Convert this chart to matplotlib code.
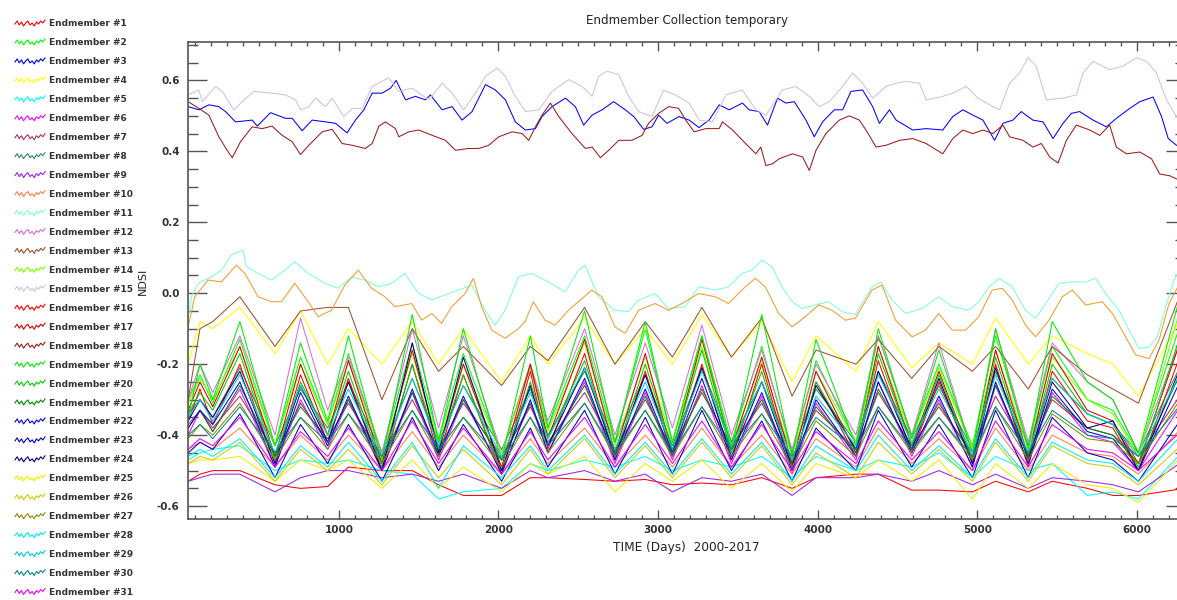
import numpy as np
import matplotlib.pyplot as plt
from matplotlib.lines import Line2D
from matplotlib.ticker import MultipleLocator

# NDSI time profiles of the endmembers
# shared sample days (turning points of the seasonal band)
band_days = [56, 130, 210, 380, 600, 760, 930, 1060, 1270, 1460, 1625, 1780, 2020, 2200,
             2310, 2540, 2730, 2920, 3090, 3275, 3460, 3650, 3840, 3990, 4240, 4380,
             4590, 4760, 4970, 5115, 5320, 5470, 5690, 5850, 6010, 6300]

em1 = [-0.53, -0.51, -0.50, -0.50, -0.54, -0.55, -0.545, -0.49, -0.50, -0.50, -0.54, -0.57,
       -0.57, -0.52, -0.52, -0.525, -0.53, -0.525, -0.54, -0.535, -0.54, -0.52, -0.55, -0.52,
       -0.51, -0.51, -0.555, -0.555, -0.56, -0.53, -0.56, -0.53, -0.55, -0.57, -0.57, -0.55]
em2 = [-0.30, -0.23, -0.31, -0.13, -0.43, -0.18, -0.37, -0.17, -0.45, -0.14, -0.41, -0.17,
       -0.45, -0.20, -0.38, -0.12, -0.42, -0.10, -0.42, -0.12, -0.42, -0.15, -0.45, -0.19,
       -0.42, -0.12, -0.40, -0.20, -0.43, -0.12, -0.43, -0.15, -0.30, -0.33, -0.45, -0.05]
em4 = [-0.20, -0.08, -0.10, -0.04, -0.17, -0.05, -0.20, -0.10, -0.20, -0.08, -0.20, -0.10,
       -0.25, -0.12, -0.20, -0.07, -0.20, -0.10, -0.20, -0.06, -0.18, -0.08, -0.25, -0.12,
       -0.22, -0.08, -0.21, -0.14, -0.20, -0.07, -0.20, -0.12, -0.17, -0.20, -0.29, -0.05]
em5 = [-0.47, -0.45, -0.44, -0.43, -0.50, -0.47, -0.48, -0.47, -0.50, -0.51, -0.58, -0.56,
       -0.55, -0.48, -0.50, -0.47, -0.49, -0.46, -0.50, -0.47, -0.49, -0.46, -0.52, -0.46,
       -0.50, -0.47, -0.49, -0.45, -0.52, -0.46, -0.50, -0.48, -0.57, -0.56, -0.58, -0.44]
em6 = [-0.40, -0.33, -0.39, -0.27, -0.49, -0.30, -0.44, -0.30, -0.50, -0.28, -0.47, -0.30,
       -0.50, -0.31, -0.45, -0.25, -0.48, -0.28, -0.47, -0.26, -0.48, -0.29, -0.51, -0.31,
       -0.47, -0.25, -0.46, -0.30, -0.49, -0.26, -0.48, -0.28, -0.40, -0.42, -0.50, -0.30]
em7 = [-0.37, -0.33, -0.38, -0.29, -0.45, -0.32, -0.41, -0.31, -0.46, -0.30, -0.44, -0.31,
       -0.46, -0.32, -0.42, -0.28, -0.44, -0.30, -0.44, -0.28, -0.43, -0.31, -0.47, -0.33,
       -0.44, -0.28, -0.43, -0.32, -0.45, -0.29, -0.45, -0.30, -0.38, -0.40, -0.46, -0.27]
em8 = [-0.34, -0.30, -0.35, -0.21, -0.43, -0.27, -0.38, -0.25, -0.45, -0.24, -0.42, -0.26,
       -0.44, -0.27, -0.40, -0.22, -0.42, -0.23, -0.43, -0.21, -0.42, -0.25, -0.45, -0.27,
       -0.42, -0.22, -0.41, -0.26, -0.44, -0.22, -0.43, -0.24, -0.34, -0.37, -0.45, -0.18]
em9 = [-0.53, -0.52, -0.51, -0.51, -0.56, -0.52, -0.50, -0.50, -0.52, -0.51, -0.53, -0.51,
       -0.55, -0.50, -0.52, -0.50, -0.53, -0.51, -0.56, -0.52, -0.53, -0.51, -0.57, -0.52,
       -0.52, -0.51, -0.53, -0.50, -0.54, -0.51, -0.55, -0.52, -0.53, -0.54, -0.56, -0.47]
em10 = [-0.44, -0.42, -0.44, -0.38, -0.49, -0.40, -0.47, -0.40, -0.50, -0.39, -0.49, -0.40,
        -0.51, -0.41, -0.48, -0.38, -0.49, -0.40, -0.49, -0.38, -0.49, -0.40, -0.51, -0.41,
        -0.49, -0.38, -0.48, -0.41, -0.50, -0.38, -0.50, -0.40, -0.45, -0.46, -0.51, -0.37]
em12 = [-0.30, -0.20, -0.28, -0.12, -0.40, -0.07, -0.33, -0.18, -0.45, -0.10, -0.38, -0.12,
        -0.45, -0.20, -0.36, -0.10, -0.40, -0.14, -0.38, -0.09, -0.40, -0.16, -0.44, -0.20,
        -0.40, -0.12, -0.40, -0.14, -0.45, -0.10, -0.42, -0.14, -0.25, -0.30, -0.45, -0.10]
em13 = [-0.30, -0.10, -0.08, -0.01, -0.15, -0.05, -0.04, -0.04, -0.30, -0.10, -0.22, -0.15,
        -0.26, -0.15, -0.19, -0.04, -0.20, -0.08, -0.18, -0.04, -0.18, -0.07, -0.29, -0.16,
        -0.20, -0.13, -0.24, -0.15, -0.22, -0.15, -0.27, -0.15, -0.23, -0.27, -0.31, 0.03]
em14 = [-0.31, -0.24, -0.30, -0.15, -0.43, -0.20, -0.37, -0.19, -0.46, -0.17, -0.42, -0.20,
        -0.45, -0.21, -0.39, -0.14, -0.43, -0.18, -0.42, -0.15, -0.43, -0.19, -0.46, -0.22,
        -0.42, -0.15, -0.41, -0.21, -0.44, -0.16, -0.44, -0.18, -0.30, -0.34, -0.46, 0.00]
em16 = [-0.36, -0.27, -0.37, -0.20, -0.48, -0.23, -0.42, -0.24, -0.50, -0.20, -0.46, -0.23,
        -0.51, -0.22, -0.44, -0.17, -0.47, -0.22, -0.46, -0.20, -0.47, -0.20, -0.50, -0.25,
        -0.46, -0.19, -0.45, -0.25, -0.48, -0.20, -0.49, -0.22, -0.36, -0.38, -0.50, -0.14]
em17 = [-0.33, -0.25, -0.32, -0.15, -0.46, -0.20, -0.40, -0.19, -0.48, -0.16, -0.44, -0.20,
        -0.49, -0.20, -0.41, -0.13, -0.45, -0.17, -0.45, -0.13, -0.44, -0.18, -0.48, -0.22,
        -0.45, -0.15, -0.43, -0.22, -0.47, -0.16, -0.46, -0.17, -0.33, -0.36, -0.48, -0.10]
em19 = [-0.35, -0.20, -0.30, -0.08, -0.43, -0.14, -0.36, -0.12, -0.47, -0.06, -0.42, -0.10,
        -0.47, -0.12, -0.38, -0.05, -0.42, -0.08, -0.42, -0.12, -0.44, -0.06, -0.46, -0.13,
        -0.43, -0.10, -0.41, -0.16, -0.45, -0.10, -0.44, -0.08, -0.25, -0.30, -0.45, 0.04]
em20 = [-0.34, -0.28, -0.33, -0.17, -0.47, -0.25, -0.40, -0.22, -0.49, -0.20, -0.44, -0.23,
        -0.50, -0.25, -0.41, -0.19, -0.46, -0.20, -0.44, -0.16, -0.45, -0.22, -0.50, -0.25,
        -0.44, -0.17, -0.43, -0.23, -0.47, -0.18, -0.47, -0.20, -0.34, -0.37, -0.49, -0.08]
em21 = [-0.38, -0.33, -0.39, -0.26, -0.46, -0.31, -0.42, -0.30, -0.48, -0.28, -0.45, -0.30,
        -0.47, -0.31, -0.43, -0.26, -0.45, -0.29, -0.46, -0.27, -0.44, -0.30, -0.48, -0.32,
        -0.45, -0.27, -0.44, -0.31, -0.46, -0.26, -0.46, -0.29, -0.38, -0.40, -0.48, -0.20]
em22 = [-0.38, -0.33, -0.37, -0.25, -0.49, -0.28, -0.43, -0.29, -0.50, -0.27, -0.46, -0.29,
        -0.51, -0.30, -0.45, -0.24, -0.47, -0.27, -0.46, -0.24, -0.47, -0.28, -0.50, -0.30,
        -0.46, -0.25, -0.45, -0.29, -0.49, -0.25, -0.48, -0.27, -0.39, -0.41, -0.50, -0.22]
em23 = [-0.45, -0.42, -0.44, -0.34, -0.52, -0.37, -0.48, -0.37, -0.53, -0.35, -0.50, -0.37,
        -0.53, -0.38, -0.49, -0.33, -0.51, -0.35, -0.51, -0.33, -0.50, -0.36, -0.53, -0.38,
        -0.50, -0.33, -0.49, -0.37, -0.52, -0.33, -0.52, -0.35, -0.45, -0.47, -0.53, -0.34]
em24 = [-0.36, -0.30, -0.35, -0.22, -0.48, -0.26, -0.42, -0.25, -0.50, -0.14, -0.45, -0.18,
        -0.50, -0.26, -0.43, -0.21, -0.46, -0.23, -0.45, -0.21, -0.46, -0.25, -0.49, -0.26,
        -0.44, -0.22, -0.44, -0.24, -0.48, -0.21, -0.47, -0.25, -0.38, -0.36, -0.50, -0.18]
em25 = [-0.48, -0.47, -0.47, -0.46, -0.53, -0.47, -0.50, -0.47, -0.55, -0.47, -0.55, -0.49,
        -0.56, -0.48, -0.51, -0.46, -0.56, -0.48, -0.53, -0.47, -0.55, -0.48, -0.56, -0.48,
        -0.52, -0.47, -0.53, -0.47, -0.58, -0.48, -0.55, -0.48, -0.54, -0.55, -0.59, -0.45]
em26 = [-0.48, -0.46, -0.47, -0.42, -0.53, -0.44, -0.50, -0.44, -0.54, -0.43, -0.52, -0.44,
        -0.54, -0.44, -0.51, -0.41, -0.52, -0.43, -0.52, -0.42, -0.52, -0.43, -0.54, -0.45,
        -0.52, -0.42, -0.51, -0.44, -0.53, -0.42, -0.53, -0.43, -0.48, -0.49, -0.54, -0.42]
em27 = [-0.41, -0.37, -0.40, -0.31, -0.47, -0.35, -0.44, -0.34, -0.48, -0.33, -0.46, -0.35,
        -0.49, -0.35, -0.45, -0.31, -0.46, -0.33, -0.46, -0.32, -0.46, -0.34, -0.49, -0.36,
        -0.46, -0.32, -0.45, -0.35, -0.47, -0.32, -0.47, -0.34, -0.41, -0.42, -0.48, -0.28]
em28 = [-0.46, -0.44, -0.46, -0.41, -0.52, -0.43, -0.49, -0.42, -0.53, -0.42, -0.55, -0.43,
        -0.52, -0.43, -0.50, -0.40, -0.51, -0.42, -0.51, -0.41, -0.51, -0.42, -0.53, -0.43,
        -0.50, -0.40, -0.50, -0.43, -0.52, -0.41, -0.52, -0.42, -0.47, -0.48, -0.53, -0.39]
em29 = [-0.35, -0.30, -0.36, -0.23, -0.45, -0.26, -0.40, -0.27, -0.46, -0.24, -0.43, -0.26,
        -0.46, -0.28, -0.41, -0.21, -0.44, -0.25, -0.44, -0.22, -0.43, -0.25, -0.47, -0.29,
        -0.43, -0.23, -0.42, -0.27, -0.45, -0.23, -0.45, -0.24, -0.34, -0.37, -0.46, -0.20]
em30 = [-0.40, -0.37, -0.41, -0.32, -0.45, -0.35, -0.42, -0.34, -0.46, -0.33, -0.44, -0.35,
        -0.47, -0.35, -0.43, -0.31, -0.45, -0.33, -0.45, -0.32, -0.44, -0.34, -0.46, -0.35,
        -0.44, -0.32, -0.44, -0.35, -0.46, -0.32, -0.45, -0.33, -0.40, -0.41, -0.46, -0.30]
em31 = [-0.44, -0.41, -0.43, -0.35, -0.49, -0.39, -0.46, -0.38, -0.50, -0.36, -0.48, -0.38,
        -0.51, -0.39, -0.47, -0.35, -0.49, -0.37, -0.48, -0.36, -0.49, -0.37, -0.50, -0.39,
        -0.48, -0.36, -0.47, -0.39, -0.50, -0.36, -0.49, -0.37, -0.44, -0.45, -0.50, -0.38]

# the curves above the band, each with its own sample days
em3_days = [56, 123, 186, 248, 290, 353, 457, 489, 572, 666, 708, 770, 833, 916, 979, 1052,
            1104, 1157, 1209, 1271, 1324, 1359, 1418, 1480, 1543, 1574, 1647, 1710, 1772,
            1835, 1919, 1981, 2044, 2106, 2169, 2232, 2273, 2336, 2420, 2482, 2534, 2587,
            2649, 2722, 2795, 2848, 2910, 2962, 3004, 3056, 3132, 3195, 3257, 3320, 3383,
            3446, 3529, 3571, 3634, 3686, 3749, 3801, 3854, 3927, 3979, 4031, 4105, 4157,
            4209, 4282, 4345, 4387, 4450, 4492, 4596, 4680, 4784, 4847, 4910, 4973, 5036,
            5109, 5161, 5224, 5276, 5349, 5412, 5475, 5538, 5590, 5642, 5726, 5810, 5872,
            5956, 6019, 6102, 6155, 6197, 6249, 6300]
em3 = [0.526, 0.517, 0.531, 0.526, 0.512, 0.483, 0.488, 0.471, 0.509, 0.493, 0.493, 0.458,
       0.488, 0.483, 0.479, 0.452, 0.488, 0.517, 0.564, 0.564, 0.578, 0.600, 0.545, 0.555,
       0.545, 0.559, 0.517, 0.526, 0.488, 0.512, 0.588, 0.573, 0.545, 0.483, 0.460, 0.464,
       0.498, 0.526, 0.550, 0.526, 0.474, 0.502, 0.517, 0.540, 0.517, 0.498, 0.462, 0.469,
       0.502, 0.479, 0.498, 0.488, 0.467, 0.488, 0.531, 0.517, 0.536, 0.517, 0.512, 0.474,
       0.550, 0.536, 0.540, 0.488, 0.441, 0.483, 0.517, 0.517, 0.569, 0.573, 0.526, 0.479,
       0.517, 0.488, 0.460, 0.464, 0.460, 0.498, 0.517, 0.502, 0.488, 0.431, 0.479, 0.488,
       0.512, 0.488, 0.483, 0.436, 0.479, 0.507, 0.512, 0.488, 0.469, 0.493, 0.521, 0.540,
       0.553, 0.498, 0.436, 0.417, 0.410]

em18_days = [56, 123, 186, 248, 300, 332, 384, 457, 520, 582, 645, 708, 760, 812, 896, 958,
             1021, 1084, 1167, 1209, 1251, 1292, 1355, 1376, 1438, 1501, 1585, 1668, 1731,
             1814, 1877, 1939, 2002, 2086, 2148, 2190, 2232, 2273, 2326, 2378, 2461, 2545,
             2587, 2639, 2691, 2754, 2837, 2900, 2941, 3004, 3067, 3129, 3174, 3226, 3299,
             3383, 3404, 3467, 3529, 3613, 3644, 3676, 3718, 3759, 3843, 3906, 3948, 3990,
             4052, 4136, 4199, 4261, 4303, 4366, 4429, 4513, 4596, 4680, 4784, 4847, 4910,
             4973, 5036, 5098, 5161, 5203, 5287, 5349, 5402, 5454, 5507, 5559, 5621, 5705,
             5768, 5830, 5872, 5935, 6019, 6092, 6144, 6207, 6249, 6300]
em18 = [0.540, 0.521, 0.502, 0.441, 0.403, 0.382, 0.427, 0.469, 0.464, 0.471, 0.445, 0.427,
        0.391, 0.417, 0.455, 0.462, 0.422, 0.417, 0.408, 0.422, 0.471, 0.483, 0.464, 0.441,
        0.455, 0.460, 0.445, 0.431, 0.403, 0.408, 0.408, 0.417, 0.441, 0.455, 0.450, 0.431,
        0.469, 0.502, 0.536, 0.498, 0.450, 0.408, 0.412, 0.382, 0.403, 0.431, 0.431, 0.445,
        0.479, 0.507, 0.526, 0.521, 0.488, 0.455, 0.464, 0.464, 0.483, 0.460, 0.431, 0.393,
        0.412, 0.360, 0.365, 0.379, 0.393, 0.384, 0.346, 0.403, 0.450, 0.488, 0.500, 0.488,
        0.460, 0.412, 0.417, 0.431, 0.436, 0.422, 0.393, 0.436, 0.460, 0.450, 0.460, 0.450,
        0.474, 0.441, 0.431, 0.412, 0.422, 0.384, 0.367, 0.431, 0.474, 0.460, 0.445, 0.474,
        0.412, 0.393, 0.398, 0.379, 0.336, 0.331, 0.322, 0.325]

em15_days = [56, 123, 144, 228, 269, 342, 395, 468, 582, 666, 729, 760, 812, 854, 916, 958,
             1031, 1084, 1146, 1209, 1313, 1376, 1459, 1564, 1647, 1710, 1783, 1856, 1919,
             1992, 2044, 2106, 2169, 2253, 2336, 2440, 2524, 2587, 2628, 2680, 2754, 2816,
             2879, 2962, 3035, 3108, 3195, 3257, 3341, 3425, 3529, 3613, 3676, 3780, 3864,
             3948, 4010, 4073, 4157, 4220, 4282, 4345, 4429, 4492, 4554, 4638, 4680, 4784,
             4847, 4931, 5004, 5078, 5140, 5203, 5266, 5318, 5370, 5433, 5538, 5621, 5663,
             5726, 5830, 5914, 5998, 6060, 6123, 6186, 6249, 6300]
em15 = [0.559, 0.573, 0.540, 0.583, 0.569, 0.517, 0.540, 0.569, 0.564, 0.559, 0.545, 0.517,
        0.526, 0.550, 0.526, 0.550, 0.498, 0.521, 0.521, 0.583, 0.607, 0.569, 0.578, 0.545,
        0.592, 0.564, 0.517, 0.564, 0.611, 0.635, 0.611, 0.555, 0.512, 0.517, 0.569, 0.602,
        0.583, 0.555, 0.611, 0.626, 0.616, 0.555, 0.512, 0.498, 0.573, 0.559, 0.536, 0.488,
        0.483, 0.559, 0.573, 0.517, 0.502, 0.573, 0.583, 0.555, 0.526, 0.540, 0.583, 0.621,
        0.592, 0.550, 0.583, 0.592, 0.597, 0.592, 0.545, 0.555, 0.564, 0.583, 0.550, 0.531,
        0.517, 0.592, 0.621, 0.664, 0.640, 0.545, 0.550, 0.559, 0.621, 0.654, 0.630, 0.640,
        0.664, 0.654, 0.621, 0.545, 0.498, 0.490]

em11_days = [56, 76, 118, 202, 264, 327, 400, 421, 494, 578, 662, 724, 808, 912, 996, 1080,
             1163, 1247, 1331, 1414, 1498, 1582, 1665, 1749, 1833, 1916, 1979, 2042, 2125,
             2209, 2313, 2418, 2501, 2543, 2627, 2731, 2815, 2878, 2982, 3066, 3170, 3254,
             3359, 3442, 3526, 3589, 3651, 3714, 3777, 3840, 3902, 3986, 4070, 4153, 4237,
             4341, 4394, 4467, 4550, 4655, 4759, 4843, 4948, 5010, 5073, 5136, 5219, 5303,
             5366, 5429, 5512, 5596, 5680, 5742, 5805, 5889, 5951, 6014, 6077, 6129, 6181,
             6233, 6257, 6300]
em11 = [-0.076, -0.010, 0.028, 0.046, 0.065, 0.108, 0.122, 0.075, 0.056, 0.037, 0.065, 0.089,
        0.056, 0.028, 0.014, 0.046, 0.037, 0.018, 0.028, 0.056, 0.000, -0.019, -0.005, 0.009,
        0.023, -0.048, -0.090, -0.048, 0.046, 0.056, 0.032, 0.004, 0.065, 0.079, -0.010,
        -0.048, -0.052, -0.019, -0.001, -0.043, -0.038, 0.018, 0.009, 0.018, 0.056, 0.065,
        0.093, 0.075, 0.018, -0.024, -0.043, -0.033, -0.024, -0.052, -0.060, 0.018, 0.032,
        -0.019, -0.057, -0.043, -0.010, -0.038, -0.048, -0.024, 0.018, 0.042, 0.018, -0.048,
        -0.071, -0.029, 0.028, 0.032, 0.032, 0.042, -0.001, -0.048, -0.104, -0.156, -0.151,
        -0.123, -0.038, 0.037, 0.056, 0.070]

# orange curve (its legend entry is below the visible part of the list)
em32_days = [56, 97, 181, 264, 358, 411, 494, 578, 641, 724, 808, 870, 954, 1038, 1122, 1205,
             1289, 1352, 1456, 1519, 1582, 1644, 1707, 1791, 1843, 1895, 1958, 2042, 2125,
             2167, 2219, 2292, 2355, 2439, 2585, 2648, 2731, 2794, 2878, 2982, 3066, 3150,
             3254, 3359, 3442, 3547, 3610, 3672, 3756, 3840, 3923, 4007, 4091, 4174, 4237,
             4341, 4404, 4488, 4592, 4676, 4759, 4843, 4927, 5010, 5094, 5157, 5219, 5303,
             5366, 5450, 5533, 5596, 5680, 5784, 5847, 5930, 5993, 6077, 6139, 6202, 6257,
             6300]
em32 = [-0.095, -0.010, 0.037, 0.032, 0.079, 0.056, -0.010, -0.024, -0.024, 0.028, -0.024,
        -0.066, -0.048, 0.023, 0.065, 0.014, -0.010, -0.038, -0.029, -0.076, -0.057, -0.085,
        -0.038, -0.001, 0.042, -0.038, -0.104, -0.127, -0.100, -0.080, -0.024, -0.076,
        -0.090, -0.048, 0.009, -0.010, -0.095, -0.113, -0.048, -0.029, -0.048, -0.029,
        -0.001, -0.010, -0.029, 0.018, 0.042, 0.018, -0.057, -0.095, -0.066, -0.033, -0.048,
        -0.076, -0.070, 0.009, 0.023, -0.076, -0.123, -0.104, -0.057, -0.104, -0.104, -0.066,
        0.009, 0.014, -0.019, -0.090, -0.123, -0.076, -0.010, 0.009, -0.033, -0.024, -0.057,
        -0.123, -0.174, -0.184, -0.132, -0.029, 0.018, 0.030]

colors = ['#ff0000', '#00ff00', '#0000ff', '#ffff00', '#00ffff', '#ff00ff', '#b03060',
          '#2e8b57', '#a020f0', '#ff7f50', '#7fffd4', '#da70d6', '#a0522d', '#7fff00',
          '#d8bfd8', '#ff0000', '#dd0000', '#9b1c1c', '#00ee00', '#00cd00', '#008b00',
          '#0000ee', '#0000cd', '#00008b', '#eeee00', '#cdcd00', '#8b8b00', '#00eeee',
          '#00cdcd', '#008b8b', '#ee00ee', '#f39c30']

series = {1: (band_days, em1), 2: (band_days, em2), 3: (em3_days, em3), 4: (band_days, em4),
          5: (band_days, em5), 6: (band_days, em6), 7: (band_days, em7), 8: (band_days, em8),
          9: (band_days, em9), 10: (band_days, em10), 11: (em11_days, em11),
          12: (band_days, em12), 13: (band_days, em13), 14: (band_days, em14),
          15: (em15_days, em15), 16: (band_days, em16), 17: (band_days, em17),
          18: (em18_days, em18), 19: (band_days, em19), 20: (band_days, em20),
          21: (band_days, em21), 22: (band_days, em22), 23: (band_days, em23),
          24: (band_days, em24), 25: (band_days, em25), 26: (band_days, em26),
          27: (band_days, em27), 28: (band_days, em28), 29: (band_days, em29),
          30: (band_days, em30), 31: (band_days, em31), 32: (em32_days, em32)}

W, H = 1177, 600
fig = plt.figure(figsize=(W / 100, H / 100), dpi=100)
ax = fig.add_axes([188 / W, (H - 518.5) / H, (1185 - 188) / W, (518.5 - 41.7) / H])

for k, (d, v) in series.items():
    ax.plot(d, v, color=colors[k - 1], lw=0.75)

ax.set_xlim(55, 6302)
ax.set_ylim(-0.635, 0.709)
ax.xaxis.set_major_locator(MultipleLocator(1000))
ax.xaxis.set_minor_locator(MultipleLocator(100))
ax.yaxis.set_major_locator(MultipleLocator(0.2))
ax.yaxis.set_minor_locator(MultipleLocator(0.05))
ax.yaxis.set_major_formatter(plt.FuncFormatter(lambda y, p: "%.1f" % y))
ax.tick_params(axis="both", which="both", direction="in", top=True, right=True,
               color="#555555", labelcolor="#333333", labelsize=7.5)
ax.tick_params(axis="y", which="major", length=14, width=1.0, pad=6)
ax.tick_params(axis="y", which="minor", length=7, width=1.0)
ax.tick_params(axis="x", which="major", length=6.5, width=1.0, pad=5)
ax.tick_params(axis="x", which="minor", length=3, width=1.0)
for lab in ax.get_xticklabels() + ax.get_yticklabels():
    lab.set_fontweight("bold")
for s in ax.spines.values():
    s.set_color("#555555")
    s.set_linewidth(1.2)

ax.set_title("Endmember Collection temporary", fontsize=8.6, color="#222222", pad=13)
fig.text(686 / W, 1 - 548 / H, "TIME (Days)  2000-2017", fontsize=8.7, color="#222222",
         ha="center", va="center")
fig.text(143 / W, 1 - 281 / H, "NDSI", fontsize=8, color="#222222", rotation=90,
         ha="center", va="center")

# legend column on the left, small wiggly glyph + name
zig = [0, 3, -1, 2, -2, 1, 3, -1, 1, -2, 2, 0, 3, 1, 4]
for i, col in enumerate(colors[:31]):
    yc = 24 + 18.95 * i
    xs = np.linspace(15, 45, len(zig)) / W
    ys = 1 - (yc - np.array(zig)) / H
    fig.add_artist(Line2D(xs, ys, transform=fig.transFigure, color=col, lw=0.8))
    fig.text(49 / W, 1 - yc / H, "Endmember #%d" % (i + 1), fontsize=6.5,
             fontweight="bold", color="#333333", va="center", ha="left")

fig.savefig("out.png", dpi=100)
